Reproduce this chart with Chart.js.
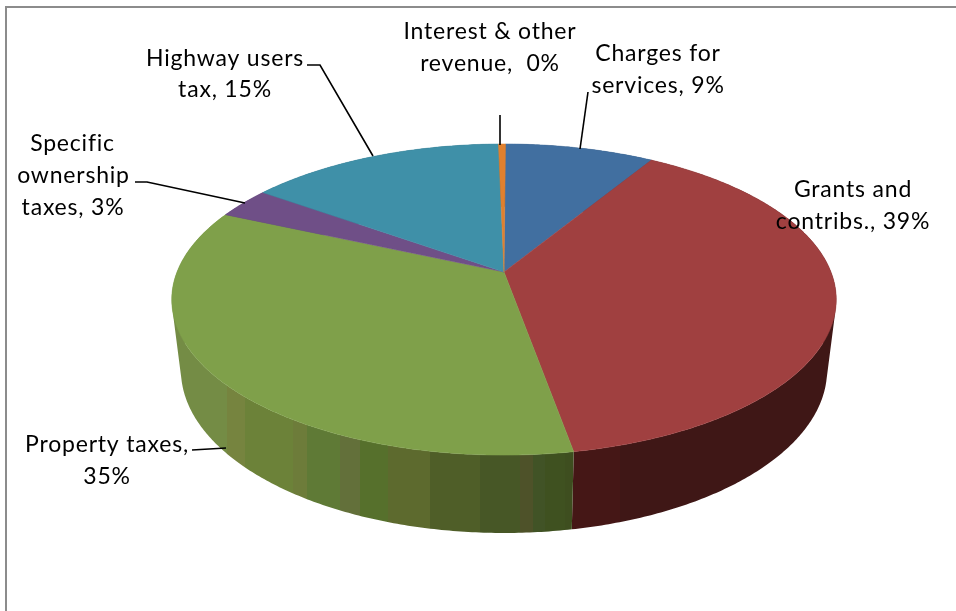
<!DOCTYPE html>
<html>
<head>
<meta charset="utf-8">
<style>
  body { margin: 0; background: #fff; }
  canvas { display: block; }
</style>
<script src="https://cdn.jsdelivr.net/npm/chart.js@4"></script>
</head>
<body>
<canvas id="pieChart" width="956" height="611"></canvas>
<script>
// values (labels are rounded, so one decimal is an estimate)
const categories = ['Charges for services', 'Grants and contribs.', 'Property taxes', 'Specific ownership taxes', 'Highway users tax', 'Interest & other revenue'];
const shares = [8.6, 38.5, 34.5, 3.2, 14.8, 0.4];
const percentLabels = ['9%', '39%', '35%', '3%', '15%', '0%'];
const sliceColors = ['#416fa0', '#a04040', '#7fa04a', '#6f4f87', '#3f90a8', '#e0802e'];
const rimColors = ['#26415e', '#3f1716', '#4f6428', '#40305a', '#255566', '#844b1a'];

// rim shading of the front edge: [right edge x of band, colour]
const greenBands = [[227, '#748c45'], [245, '#76843f'], [293, '#6c8239'], [307, '#6d7c3a'], [340, '#5f7a36'],
    [360, '#63703a'], [388, '#56702c'], [430, '#5d6a2e'], [480, '#4f5e28'], [520, '#475726'], [533, '#4e5229'],
    [545, '#415326'], [565, '#3f5120'], [577, '#3e4e1f']];
const redBands = [[620, '#451716'], [956, '#3f1716']];

// text lines and leaders, kept apart from the values
const textLines = [
    ['Interest & other', 490, 39], ['revenue,  0%', 490, 71],
    ['Charges for', 658, 61], ['services, 9%', 658, 93],
    ['Grants and', 853, 197], ['contribs., 39%', 853, 229],
    ['Highway users', 225, 66], ['tax, 15%', 225, 97],
    ['Specific', 72.5, 151], ['ownership', 73.5, 183], ['taxes, 3%', 73, 215],
    ['Property taxes,', 107, 452], ['35%', 107, 484],
];
const leaders = [
    [[307, 65], [320, 65], [373, 156]],
    [[588, 92], [580, 149]],
    [[500, 115], [500, 145]],
    [[135, 182], [147, 182], [245, 203]],
    [[192, 450], [226, 448]],
];

// tilted circle, projected: top face and the lower edge of the rim
const tilt = 0.177;
const topFace = { cx: 504, cy: 272, a: 327, b: 150.7 };
const lowerEdge = { cx: 504, cy: 341, a: 318, b: 158 };

function project(face, angle) {
    const u = Math.cos(angle);
    const v = Math.sin(angle);
    const w = 1 - tilt * v;
    return [face.cx + face.a * u / w, face.cy + face.b * v / w];
}

function arcPoints(face, start, end) {
    const steps = Math.max(2, Math.ceil((end - start) / 0.01));
    const points = [];
    for (let i = 0; i <= steps; i++) {
        points.push(project(face, start + (end - start) * i / steps));
    }
    return points;
}

function addPolygon(ctx, points) {
    points.forEach((p, i) => (i ? ctx.lineTo(p[0], p[1]) : ctx.moveTo(p[0], p[1])));
    ctx.closePath();
}

function signedArea(points) {
    return points.reduce((sum, p, i) => {
        const q = points[(i + 1) % points.length];
        return sum + p[0] * q[1] - q[0] * p[1];
    }, 0);
}

function bandGradient(ctx, bands) {
    const gradient = ctx.createLinearGradient(0, 0, 956, 0);
    let left = 0;
    bands.forEach(([right, color]) => {
        gradient.addColorStop(left / 956, color);
        gradient.addColorStop(right / 956, color);
        left = right;
    });
    return gradient;
}

const pie3d = {
    id: 'pie3d',
    // the arcs keep their angles from Chart.js, only the painting is projected
    beforeDatasetsDraw(chart) {
        const ctx = chart.ctx;
        const arcs = chart.getDatasetMeta(0).data;
        const rimFills = rimColors.slice();
        rimFills[1] = bandGradient(ctx, redBands);
        rimFills[2] = bandGradient(ctx, greenBands);

        arcs.forEach((arc, i) => {
            const upper = arcPoints(topFace, arc.startAngle, arc.endAngle);
            const lower = arcPoints(lowerEdge, arc.startAngle, arc.endAngle);
            // quads in one path, same winding, so the rim fills without seams or holes
            ctx.beginPath();
            for (let s = 0; s + 1 < upper.length; s++) {
                const quad = [upper[s], upper[s + 1], lower[s + 1], lower[s]];
                addPolygon(ctx, signedArea(quad) < 0 ? quad.reverse() : quad);
            }
            ctx.fillStyle = rimFills[i];
            ctx.fill();
        });

        arcs.forEach((arc, i) => {
            const points = arcPoints(topFace, arc.startAngle, arc.endAngle);
            points.push([topFace.cx, topFace.cy]);
            ctx.beginPath();
            addPolygon(ctx, points);
            ctx.fillStyle = sliceColors[i];
            ctx.strokeStyle = sliceColors[i];
            ctx.lineWidth = 0.5;
            ctx.fill();
            ctx.stroke();
        });
        return false;
    },
    afterDraw(chart) {
        const ctx = chart.ctx;
        ctx.save();
        ctx.strokeStyle = '#8c8c8c';
        ctx.lineWidth = 2;
        ctx.beginPath();
        ctx.moveTo(6, 611);
        ctx.lineTo(6, 7);
        ctx.lineTo(956, 7);
        ctx.stroke();

        ctx.strokeStyle = '#000';
        ctx.lineWidth = 1.6;
        leaders.forEach(line => {
            ctx.beginPath();
            line.forEach((p, i) => (i ? ctx.lineTo(p[0], p[1]) : ctx.moveTo(p[0], p[1])));
            ctx.stroke();
        });

        ctx.fillStyle = '#000';
        ctx.font = '23px Lato';
        ctx.letterSpacing = '0.8px';
        ctx.textAlign = 'center';
        ctx.filter = 'blur(0.4px)';
        textLines.forEach(([text, x, y]) => ctx.fillText(text, x, y));
        ctx.restore();
    },
};

new Chart(document.getElementById('pieChart'), {
    type: 'pie',
    data: {
        labels: categories.map((name, i) => `${name}, ${percentLabels[i]}`),
        datasets: [{ data: shares, backgroundColor: sliceColors, borderWidth: 0 }],
    },
    options: {
        responsive: false,
        animation: false,
        rotation: 0.3,
        plugins: { legend: { display: false }, tooltip: { enabled: false } },
    },
    plugins: [pie3d],
});
</script>
</body>
</html>
